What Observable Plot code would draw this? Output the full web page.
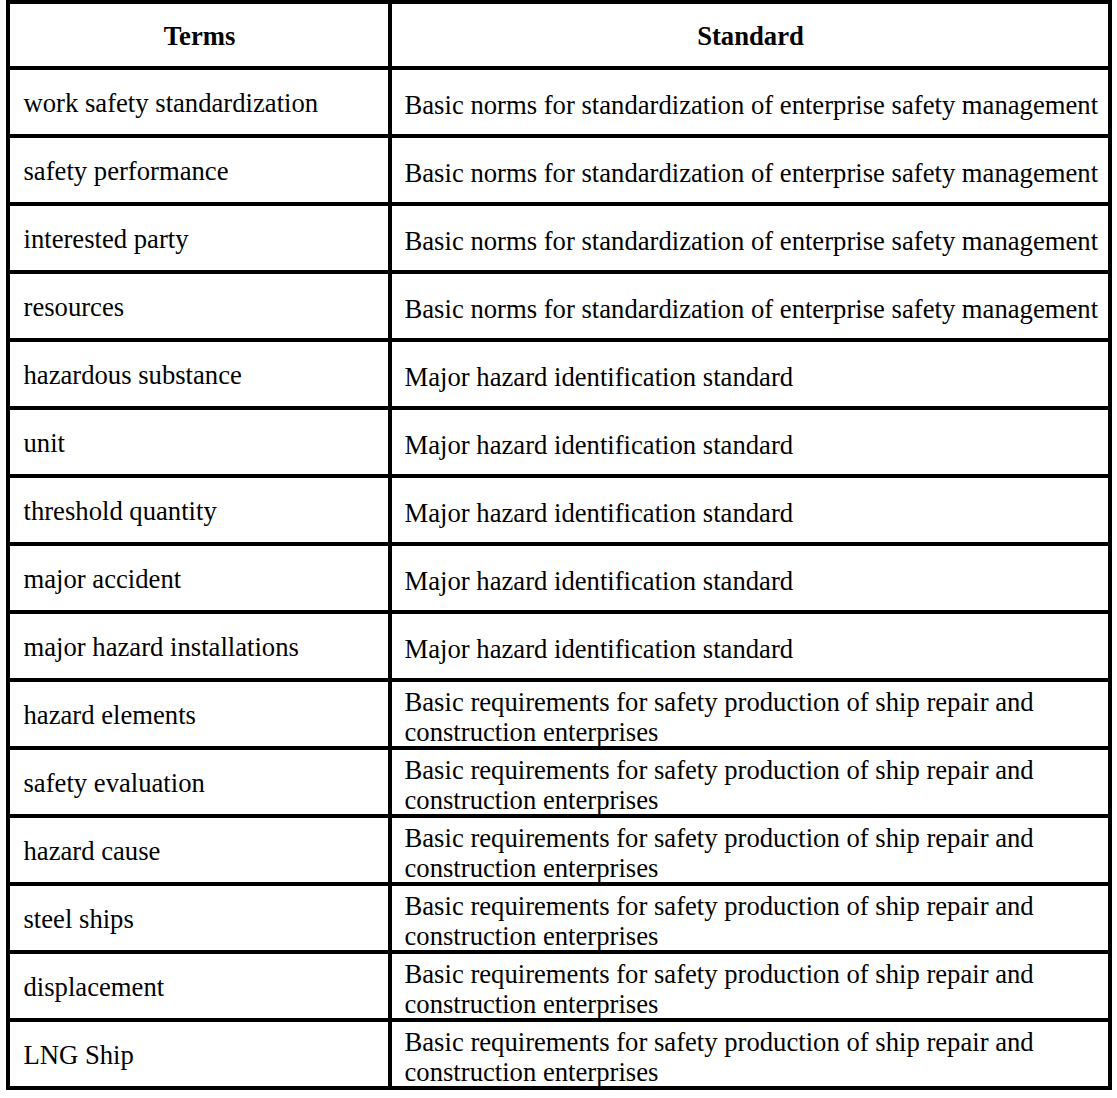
<!DOCTYPE html>
<html>
<head>
<meta charset="utf-8">
<script src="https://cdn.jsdelivr.net/npm/d3@7"></script>
<script src="https://cdn.jsdelivr.net/npm/@observablehq/plot@0.6"></script>
<style>
  html, body { margin: 0; padding: 0; background: #fff; }
  #chart svg { display: block; }
</style>
</head>
<body>
<div id="chart"></div>
<script>
// ---- data ----
const headers = ["Terms", "Standard"];
const terms = [
  "work safety standardization",
  "safety performance",
  "interested party",
  "resources",
  "hazardous substance",
  "unit",
  "threshold quantity",
  "major accident",
  "major hazard installations",
  "hazard elements",
  "safety evaluation",
  "hazard cause",
  "steel ships",
  "displacement",
  "LNG Ship"
];
const standards = [
  "Basic norms for standardization of enterprise safety management",
  "Basic norms for standardization of enterprise safety management",
  "Basic norms for standardization of enterprise safety management",
  "Basic norms for standardization of enterprise safety management",
  "Major hazard identification standard",
  "Major hazard identification standard",
  "Major hazard identification standard",
  "Major hazard identification standard",
  "Major hazard identification standard",
  "Basic requirements for safety production of ship repair and construction enterprises",
  "Basic requirements for safety production of ship repair and construction enterprises",
  "Basic requirements for safety production of ship repair and construction enterprises",
  "Basic requirements for safety production of ship repair and construction enterprises",
  "Basic requirements for safety production of ship repair and construction enterprises",
  "Basic requirements for safety production of ship repair and construction enterprises"
];

// ---- layout ----
const FONT = '"Liberation Serif", "Times New Roman", Times, serif';
const FONT_SIZE = 26.67;
const W = 1117, H = 1098;
const COL_SPLIT = 382 / 1102;          // fraction of table width for first column
const HEADER_FRAC = 66 / 68;           // header row height relative to body row
const WRAP_WIDTH = 706;                // px available for text in the Standard column

// word wrap by measuring with canvas
const ctx = document.createElement("canvas").getContext("2d");
ctx.font = `${FONT_SIZE}px ${FONT}`;
function wrap(s, maxW) {
  const words = s.split(" ");
  const lines = [];
  let cur = "";
  for (const w of words) {
    const test = cur ? cur + " " + w : w;
    if (cur && ctx.measureText(test).width > maxW) { lines.push(cur); cur = w; }
    else cur = test;
  }
  if (cur) lines.push(cur);
  return lines.join("\n");
}

const colEdges = [0, COL_SPLIT, 1];
const cells = [];
headers.forEach((h, c) => cells.push({row: -1, col: c, text: h}));
terms.forEach((t, i) => {
  cells.push({row: i, col: 0, text: t});
  cells.push({row: i, col: 1, text: wrap(standards[i], WRAP_WIDTH)});
});
const y1 = d => d.row < 0 ? -HEADER_FRAC : d.row;
const y2 = d => d.row < 0 ? 0 : d.row + 1;

const headerCells = cells.filter(d => d.row < 0);
const bodyLeft = cells.filter(d => d.row >= 0 && d.col === 0);
const bodyRight = cells.filter(d => d.row >= 0 && d.col === 1);

const chart = Plot.plot({
  width: W,
  height: H,
  margin: 0,
  style: {background: "#fff", fontFamily: FONT},
  x: {type: "linear", domain: [0, 1], range: [8, 1110], axis: null},
  y: {type: "linear", domain: [-HEADER_FRAC, terms.length], range: [2, 1088], axis: null},
  marks: [
    Plot.rect(cells, {
      x1: d => colEdges[d.col], x2: d => colEdges[d.col + 1],
      y1, y2,
      fill: "#fff", stroke: "#000", strokeWidth: 4
    }),
    Plot.text(headerCells, {
      x: d => (colEdges[d.col] + colEdges[d.col + 1]) / 2,
      y: d => (y1(d) + y2(d)) / 2,
      text: "text",
      fontFamily: FONT, fontSize: FONT_SIZE, fontWeight: "bold",
      fill: "#000", dy: 0.5
    }),
    Plot.text(bodyLeft, {
      x: d => colEdges[d.col],
      y: d => (y1(d) + y2(d)) / 2,
      text: "text", textAnchor: "start", dx: 15, dy: 0.5,
      fontFamily: FONT, fontSize: FONT_SIZE, fill: "#000"
    }),
    Plot.text(bodyRight, {
      x: d => colEdges[d.col],
      y: d => (y1(d) + y2(d)) / 2,
      text: "text", textAnchor: "start", dx: 14, dy: 1.5,
      lineHeight: 1.13,
      fontFamily: FONT, fontSize: FONT_SIZE, fill: "#000"
    })
  ]
});
document.getElementById("chart").appendChild(chart);
</script>
</body>
</html>
